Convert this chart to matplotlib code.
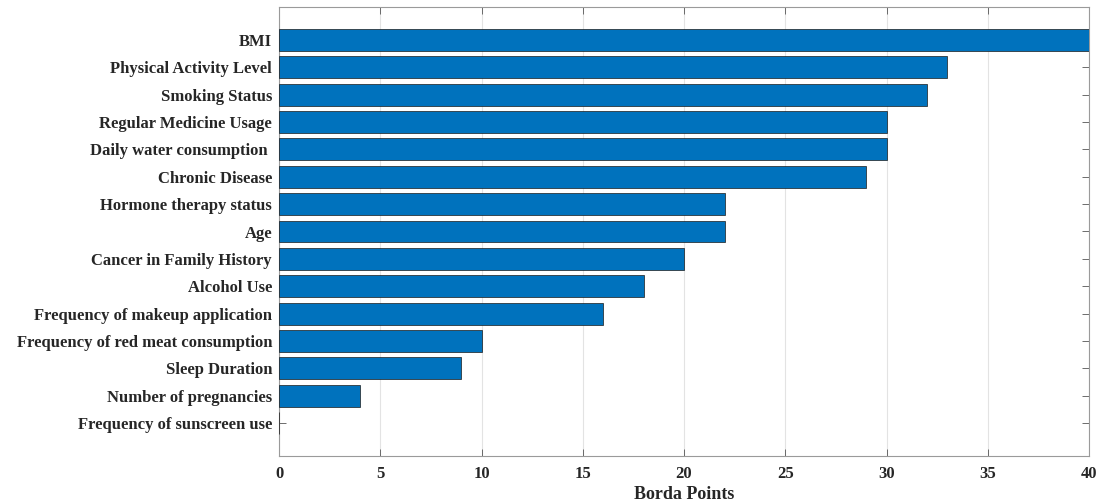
import numpy as np
import matplotlib
matplotlib.use("Agg")
import matplotlib.pyplot as plt

#%% data (top to bottom)
features = ["BMI", "Physical Activity Level", "Smoking Status", "Regular Medicine Usage",
            "Daily water consumption ", "Chronic Disease", "Hormone therapy status", "Age",
            "Cancer in Family History", "Alcohol Use", "Frequency of makeup application",
            "Frequency of red meat consumption", "Sleep Duration", "Number of pregnancies",
            "Frequency of sunscreen use"]
borda = [40, 33, 32, 30, 30, 29, 22, 22, 20, 18, 16, 10, 9, 4, 0]
xticks = [0, 5, 10, 15, 20, 25, 30, 35, 40]

#%% plot
plt.rcParams['font.family'] = ['Liberation Serif', 'DejaVu Serif']
plt.rcParams['font.weight'] = 'bold'

fig = plt.figure(figsize=(11.03, 5.04), dpi=100)
ax = fig.add_axes([279/1103, 1 - 456/504, (1089 - 279)/1103, (456 - 7)/504])

ypos = np.arange(len(features))[::-1]
ax.barh(ypos, borda, height=0.8, color='#0072BD', edgecolor='#1a1a1a', linewidth=0.5, zorder=3)

ax.set_xlim(0, 40)
ax.set_ylim(-1.2, 15.2)
ax.set_xticks(xticks)
ax.set_yticks(ypos)
ax.set_yticklabels(features)
ax.grid(axis='x', color='#e3e3e3', linewidth=0.8, zorder=0)
ax.set_axisbelow(True)

ax.tick_params(axis='both', direction='in', length=5, width=0.6, color='#555555',
               labelsize=12, labelcolor='#262626', top=True, right=True)
ax.tick_params(axis='y', pad=5)
ax.tick_params(axis='x', pad=7)
for lab in ax.get_xticklabels() + ax.get_yticklabels():
    lab.set_fontweight('bold')
for sp in ax.spines.values():
    sp.set_color('#9a9a9a')
    sp.set_linewidth(0.8)

ax.set_xlabel("Borda Points", fontsize=13, fontweight='bold', color='#262626', labelpad=3)

fig.savefig("out.png", dpi=100)
